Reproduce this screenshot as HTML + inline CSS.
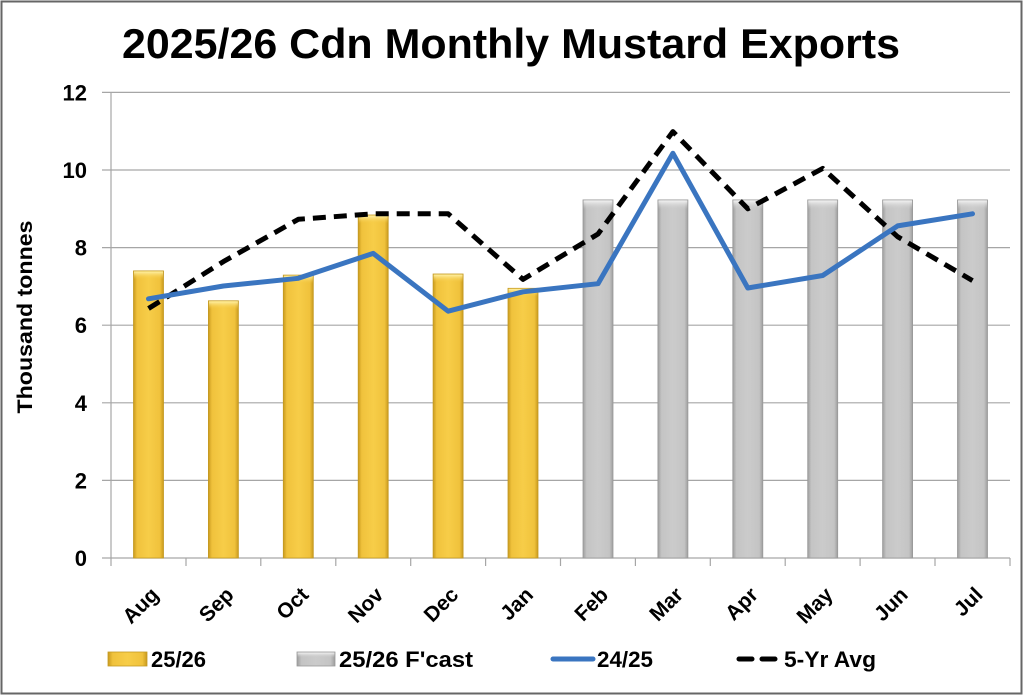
<!DOCTYPE html>
<html><head><meta charset="utf-8"><style>
html,body{margin:0;padding:0;background:#fff;}
svg{display:block;}
text{font-family:"Liberation Sans",sans-serif;}
</style></head><body>
<svg width="1024" height="697" viewBox="0 0 1024 697" xmlns="http://www.w3.org/2000/svg">
<defs>
<linearGradient id="gy" x1="0" x2="1" y1="0" y2="0">
<stop offset="0" stop-color="#c99a1e"/><stop offset="0.12" stop-color="#f0c23c"/><stop offset="0.5" stop-color="#f7cd48"/><stop offset="0.88" stop-color="#f0c23c"/><stop offset="1" stop-color="#c99a1e"/>
</linearGradient>
<linearGradient id="gg" x1="0" x2="1" y1="0" y2="0">
<stop offset="0" stop-color="#9e9e9e"/><stop offset="0.12" stop-color="#c4c4c4"/><stop offset="0.5" stop-color="#cbcbcb"/><stop offset="0.88" stop-color="#c4c4c4"/><stop offset="1" stop-color="#9e9e9e"/>
</linearGradient>
<linearGradient id="gyt" x1="0" x2="0" y1="0" y2="1"><stop offset="0" stop-color="#fff2a8"/><stop offset="1" stop-color="#f5c842" stop-opacity="0"/></linearGradient>
<linearGradient id="ggt" x1="0" x2="0" y1="0" y2="1"><stop offset="0" stop-color="#f4f4f4"/><stop offset="1" stop-color="#cbcbcb" stop-opacity="0"/></linearGradient>
</defs>
<rect x="1.5" y="1.5" width="1020" height="692" fill="#fff" stroke="#666" stroke-width="2"/>
<text x="122" y="58" font-size="42" font-weight="bold" textLength="778" lengthAdjust="spacingAndGlyphs">2025/26 Cdn Monthly Mustard Exports</text>
<g stroke="#a6a6a6" stroke-width="1.2">
<line x1="102" y1="92.4" x2="1010" y2="92.4"/>
<line x1="102" y1="170" x2="1010" y2="170"/>
<line x1="102" y1="247.6" x2="1010" y2="247.6"/>
<line x1="102" y1="325.2" x2="1010" y2="325.2"/>
<line x1="102" y1="402.8" x2="1010" y2="402.8"/>
<line x1="102" y1="480.4" x2="1010" y2="480.4"/>
<line x1="102" y1="558" x2="1010" y2="558"/>
<line x1="111" y1="92" x2="111" y2="566"/>
<line x1="186" y1="558" x2="186" y2="566"/>
<line x1="260.8" y1="558" x2="260.8" y2="566"/>
<line x1="335.8" y1="558" x2="335.8" y2="566"/>
<line x1="410.7" y1="558" x2="410.7" y2="566"/>
<line x1="485.6" y1="558" x2="485.6" y2="566"/>
<line x1="560.5" y1="558" x2="560.5" y2="566"/>
<line x1="635.4" y1="558" x2="635.4" y2="566"/>
<line x1="710.3" y1="558" x2="710.3" y2="566"/>
<line x1="785.2" y1="558" x2="785.2" y2="566"/>
<line x1="860.1" y1="558" x2="860.1" y2="566"/>
<line x1="935" y1="558" x2="935" y2="566"/>
<line x1="1010" y1="558" x2="1010" y2="566"/>
</g>
<g font-size="22" font-weight="bold" text-anchor="end" fill="#000">
<text x="87" y="100.5">12</text>
<text x="87" y="178">10</text>
<text x="87" y="255.6">8</text>
<text x="87" y="333.2">6</text>
<text x="87" y="410.8">4</text>
<text x="87" y="488.4">2</text>
<text x="87" y="566">0</text>
</g>
<text transform="translate(32,317) rotate(-90)" font-size="21" text-anchor="middle" font-weight="bold" fill="#000" textLength="193" lengthAdjust="spacingAndGlyphs">Thousand tonnes</text>
<!-- yellow bars -->
<g stroke="#c49a22" stroke-width="0.8">
<rect x="133.5" y="270.9" width="30" height="287.1" fill="url(#gy)"/>
<rect x="208.4" y="300.8" width="30" height="257.2" fill="url(#gy)"/>
<rect x="283.3" y="275.1" width="30" height="282.9" fill="url(#gy)"/>
<rect x="358.2" y="215" width="30" height="343" fill="url(#gy)"/>
<rect x="433.1" y="274" width="30" height="284" fill="url(#gy)"/>
<rect x="508" y="288.3" width="30" height="269.7" fill="url(#gy)"/>
</g>
<g stroke="none">
<rect x="134" y="271.4" width="29" height="8" fill="url(#gyt)"/>
<rect x="208.9" y="301.3" width="29" height="8" fill="url(#gyt)"/>
<rect x="283.8" y="275.6" width="29" height="8" fill="url(#gyt)"/>
<rect x="358.7" y="215.5" width="29" height="8" fill="url(#gyt)"/>
<rect x="433.6" y="274.5" width="29" height="8" fill="url(#gyt)"/>
<rect x="508.5" y="288.8" width="29" height="8" fill="url(#gyt)"/>
</g>
<!-- gray bars -->
<g stroke="#999" stroke-width="0.8">
<rect x="583" y="199.9" width="30" height="358.1" fill="url(#gg)"/>
<rect x="657.9" y="199.9" width="30" height="358.1" fill="url(#gg)"/>
<rect x="732.8" y="199.9" width="30" height="358.1" fill="url(#gg)"/>
<rect x="807.7" y="199.9" width="30" height="358.1" fill="url(#gg)"/>
<rect x="882.6" y="199.9" width="30" height="358.1" fill="url(#gg)"/>
<rect x="957.5" y="199.9" width="30" height="358.1" fill="url(#gg)"/>
</g>
<g stroke="none">
<rect x="583.5" y="200.4" width="29" height="9" fill="url(#ggt)"/>
<rect x="658.4" y="200.4" width="29" height="9" fill="url(#ggt)"/>
<rect x="733.3" y="200.4" width="29" height="9" fill="url(#ggt)"/>
<rect x="808.2" y="200.4" width="29" height="9" fill="url(#ggt)"/>
<rect x="883.1" y="200.4" width="29" height="9" fill="url(#ggt)"/>
<rect x="958" y="200.4" width="29" height="9" fill="url(#ggt)"/>
</g>
<!-- 5-yr avg -->
<polyline fill="none" stroke="#000" stroke-width="5" stroke-dasharray="13 8" stroke-linejoin="round" points="148.5,308.5 223.4,261.6 298.3,219.3 373.2,213.8 448.1,213.8 523,279.4 598,234 672.9,131.6 747.8,208.8 822.7,168.4 897.6,236.7 972.5,280.6"/>
<!-- 24/25 -->
<polyline fill="none" stroke="#3a75c0" stroke-width="5" stroke-linejoin="round" stroke-linecap="round" points="148.5,298.8 223.4,286 298.3,278.3 373.2,253.4 448.1,311.2 523,291.8 598,283.7 672.9,153.3 747.8,288 822.7,275.5 897.6,225.9 972.5,213.8"/>
<!-- x labels -->
<g font-size="21" font-weight="bold" text-anchor="end" fill="#000">
<text transform="translate(160,596) rotate(-45)">Aug</text>
<text transform="translate(234.9,596) rotate(-45)">Sep</text>
<text transform="translate(309.8,596) rotate(-45)">Oct</text>
<text transform="translate(384.7,596) rotate(-45)">Nov</text>
<text transform="translate(459.6,596) rotate(-45)">Dec</text>
<text transform="translate(534.5,596) rotate(-45)">Jan</text>
<text transform="translate(609.5,596) rotate(-45)">Feb</text>
<text transform="translate(684.4,596) rotate(-45)">Mar</text>
<text transform="translate(759.3,596) rotate(-45)">Apr</text>
<text transform="translate(834.2,596) rotate(-45)">May</text>
<text transform="translate(909.1,596) rotate(-45)">Jun</text>
<text transform="translate(984,596) rotate(-45)">Jul</text>
</g>
<!-- legend -->
<rect x="108" y="652" width="39" height="14" fill="url(#gy)" stroke="#c49a22" stroke-width="0.8"/>
<rect x="297" y="652" width="38" height="14" fill="url(#gg)" stroke="#999" stroke-width="0.8"/>
<rect x="297.5" y="652.5" width="37" height="5" fill="url(#ggt)"/>
<line x1="553" y1="659" x2="593" y2="659" stroke="#3a75c0" stroke-width="5" stroke-linecap="round"/>
<line x1="739" y1="659" x2="780" y2="659" stroke="#000" stroke-width="5" stroke-dasharray="13 10" stroke-linecap="round"/>
<g font-size="22" font-weight="bold" fill="#000">
<text x="151" y="667" textLength="55" lengthAdjust="spacingAndGlyphs">25/26</text>
<text x="339" y="667" textLength="134" lengthAdjust="spacingAndGlyphs">25/26 F'cast</text>
<text x="597" y="667" textLength="56" lengthAdjust="spacingAndGlyphs">24/25</text>
<text x="784" y="667" textLength="92" lengthAdjust="spacingAndGlyphs">5-Yr Avg</text>
</g>
</svg>
</body></html>
